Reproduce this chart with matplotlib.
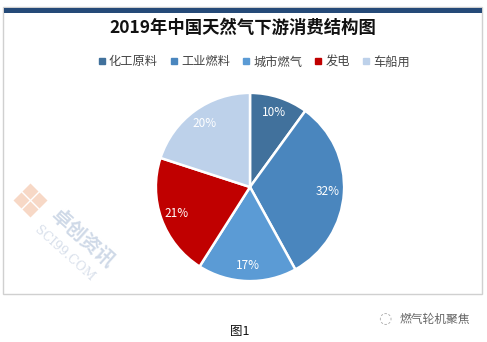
import matplotlib.pyplot as plt
from matplotlib.patches import Rectangle
from matplotlib.lines import Line2D

plt.rcParams['font.family'] = ['Noto Sans CJK SC', 'DejaVu Sans']

categories = ['化工原料', '工业燃料', '城市燃气', '发电', '车船用']
shares = [10, 32, 17, 21, 20]
colors = ['#41719C', '#4A86BE', '#5B9BD5', '#C00000', '#BDD1EA']

W, H = 487, 342
fig = plt.figure(figsize=(W / 100, H / 100), dpi=100)
fig.patch.set_facecolor('white')


def fx(x):
    return x / W


def fy(y):
    return 1 - y / H


# chart frame and top band
fig.patches.append(Rectangle((fx(3), fy(294)), fx(479), (287) / H, transform=fig.transFigure,
                             fill=False, edgecolor='#d0d0d0', lw=1.0))
fig.patches.append(Rectangle((fx(4), fy(13)), fx(478), 5 / H, transform=fig.transFigure,
                             facecolor='#254a78', edgecolor='none'))

fig.text(fx(243), fy(28), '2019年中国天然气下游消费结构图', ha='center', va='center',
         fontsize=12.5, fontweight='bold', color='#111111')

# pie
cx, cy, r = 250, 187, 96
ax = fig.add_axes([fx(cx - r), fy(cy + r), 2 * r / W, 2 * r / H])
wedges, _, autotexts = ax.pie(shares, colors=colors, startangle=90, counterclock=False,
                              autopct='%d%%', pctdistance=0.83,
                              wedgeprops=dict(edgecolor='white', linewidth=1.8),
                              textprops=dict(color='white', fontsize=8.5))
ax.set_xlim(-1.02, 1.02)
ax.set_ylim(-1.02, 1.02)
ax.set_aspect('equal')
ax.axis('off')

handles = [Line2D([], [], marker='s', linestyle='none', markersize=4,
                  markerfacecolor=c, markeredgecolor=c) for c in colors]
fig.legend(handles, categories, loc='center', bbox_to_anchor=(fx(254), fy(62)), ncol=5,
           frameon=False, fontsize=8.8, handlelength=0.6, handletextpad=0.3,
           columnspacing=1.0, labelcolor='#444444')

# watermark logo
for dx, dy in [(0, -9), (-9, 0), (9, 0), (0, 9)]:
    fig.lines.append(Line2D([fx(30 + dx)], [fy(200 + dy)], transform=fig.transFigure,
                            marker='D', markersize=8.5, linestyle='none',
                            markerfacecolor='#f6cfb8', markeredgecolor='none', alpha=0.8))
fig.text(fx(82), fy(238), '卓创资讯', rotation=-42, ha='center', va='center',
         fontsize=14, fontweight='bold', color='#c3d0e2', alpha=0.8)
fig.text(fx(64), fy(254), 'SCI99.COM', rotation=-42, ha='center', va='center',
         fontsize=9, family='DejaVu Serif', color='#cfd8e6', alpha=0.8)

fig.text(fx(240), fy(331), '图1', ha='center', va='center', fontsize=9, color='#111111')
fig.text(fx(435), fy(320), '燃气轮机聚焦', ha='center', va='center', fontsize=8.5, color='#666666')
fig.text(fx(385), fy(319), '◌', ha='center', va='center', fontsize=11, color='#aaaaaa',
         family='DejaVu Sans')

fig.savefig('out.png', dpi=100, facecolor='white')
